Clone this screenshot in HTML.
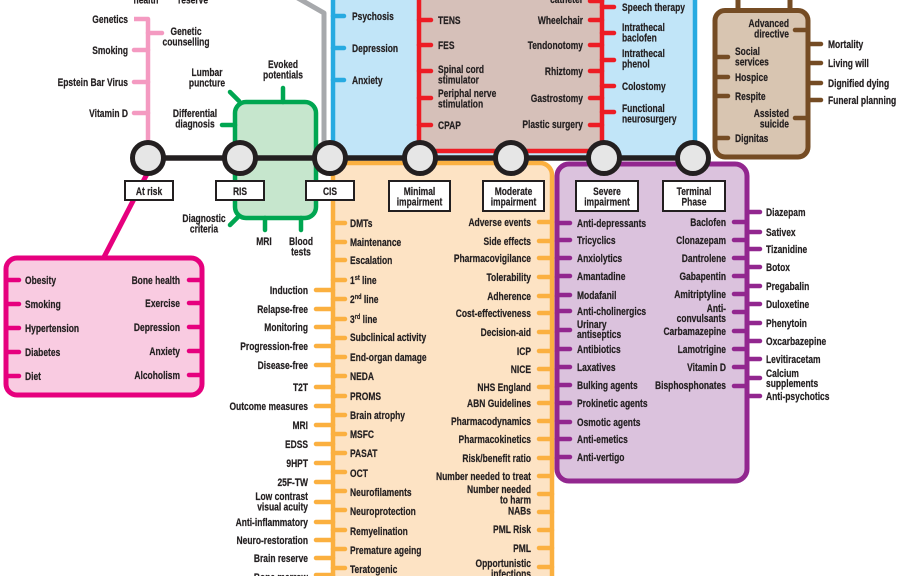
<!DOCTYPE html>
<html><head><meta charset="utf-8"><style>
html,body{margin:0;padding:0;background:#fff;}
body{width:902px;height:576px;overflow:hidden;}
svg{display:block;}
.t{font-family:"Liberation Sans",Arial,sans-serif;font-weight:bold;font-size:10.6px;fill:#231f20;stroke:#231f20;stroke-width:0.2px;}
.e{text-anchor:end;}
.m{text-anchor:middle;}
.tk{fill:none;stroke-linecap:round;}
</style></head><body>
<svg width="902" height="576" viewBox="0 0 902 576" xmlns="http://www.w3.org/2000/svg">
<defs><clipPath id="c"><rect x="0" y="0" width="902" height="576"/></clipPath></defs>
<g clip-path="url(#c)">
<!-- blue box -->
<rect x="333" y="-20" width="362" height="178" rx="10" fill="#c1e5f8" stroke="#27aae1" stroke-width="4.5"/>
<path class="tk" stroke="#27aae1" stroke-width="4.5" d="M333,16H344M333,48H344M333,80H344"/>
<!-- red box -->
<rect x="419" y="-20" width="183" height="171" rx="10" fill="#d6c0b9" stroke="#ed1c24" stroke-width="4.5"/>
<path class="tk" stroke="#ed1c24" stroke-width="4.5" d="M419,20H431M419,45H431M419,71H431M419,98H431M419,125H431M590,1H602M590,20H602M590,45H602M590,71H602M590,98H602M590,125H602M602,7H614M602,33H614M602,60H614M602,86H614M602,112H614"/>
<!-- gray line -->
<path d="M296,-3L324,13V150" fill="none" stroke="#a7a9ac" stroke-width="5" stroke-linejoin="round"/>
<!-- light pink line -->
<path d="M134,19H148V158" fill="none" stroke="#f49ac1" stroke-width="4.5" stroke-linejoin="round"/>
<path class="tk" stroke="#f49ac1" stroke-width="4.5" d="M134,50H148M134,82H148M134,113H148M148,33H162"/>
<!-- green box -->
<rect x="235" y="102" width="81" height="116" rx="11" fill="#c6e6cd" stroke="#00a651" stroke-width="4.5"/>
<path class="tk" stroke="#00a651" stroke-width="4.5" d="M230,92L239,101M283,88V102M222,125H235M230,225L238,217M265,218V230M301,218V230"/>
<!-- orange box -->
<rect x="333" y="163" width="219" height="430" rx="12" fill="#fde3c4" stroke="#fbb040" stroke-width="4.5"/>
<path class="tk" stroke="#fbb040" stroke-width="4.5" d="M316,290H333M316,309H333M316,327H333M316,346H333M316,365H333M316,387H333M316,406H333M316,425H333M316,444H333M316,463H333M316,482H333M316,502H333M316,522H333M316,540H333M316,558H333M316,575H333
M333,223H345M333,242H345M333,260H345M333,280H345M333,299H345M333,319H345M333,338H345M333,357H345M333,376H345M333,396H345M333,415H345M333,434H345M333,453H345M333,472H345M333,491H345M333,510H345M333,530H345M333,549H345M333,568H345
M539,222H552M539,241H552M539,258H552M539,277H552M539,296H552M539,313H552M539,332H552M539,351H552M539,369H552M539,387H552M539,403H552M539,421H552M539,439H552M539,458H552M539,476H552M539,494H552M539,512H552M539,530H552M539,548H552M539,567H552"/>
<!-- purple box -->
<rect x="557" y="164" width="190" height="317" rx="12" fill="#dbc2dd" stroke="#92278f" stroke-width="5"/>
<path class="tk" stroke="#92278f" stroke-width="4.5" d="M557,223H570M557,240H570M557,258H570M557,276H570M557,295H570M557,311H570M557,330H570M557,349H570M557,367H570M557,385H570M557,403H570M557,422H570M557,439H570M557,457H570
M734,222H747M734,240H747M734,258H747M734,276H747M734,294H747M734,312H747M734,331H747M734,349H747M734,367H747M734,386H747
M747,212H760M747,232H760M747,249H760M747,267H760M747,286H760M747,304H760M747,323H760M747,341H760M747,359H760M747,378H760M747,396H760"/>
<!-- brown box -->
<path d="M738,-5V11M790,-5V11" stroke="#754c24" stroke-width="5" fill="none"/>
<rect x="715" y="10.5" width="93" height="146.5" rx="10" fill="#d8c5b1" stroke="#754c24" stroke-width="5"/>
<path class="tk" stroke="#754c24" stroke-width="4.5" d="M715,57H728M715,77H728M715,96H728M715,138H728M795,30H808M795,118H808M808,44H821M808,63H821M808,83H821M808,100H821"/>
<!-- magenta -->
<path d="M148,172L103,259" stroke="#e6007e" stroke-width="5" fill="none"/>
<rect x="6" y="258" width="196" height="137" rx="11" fill="#f9cbe1" stroke="#e6007e" stroke-width="5"/>
<path class="tk" stroke="#e6007e" stroke-width="4.5" d="M6,280H19M6,304H19M6,328H19M6,352H19M6,376H19M189,280H202M189,303H202M189,327H202M189,351H202M189,375H202"/>
<!-- black line & stations -->
<path d="M148,158H693" stroke="#231f20" stroke-width="5.5"/>
<g fill="#e6e6e6" stroke="#231f20" stroke-width="5">
<circle cx="148" cy="158" r="15.5"/><circle cx="240" cy="158" r="15.5"/><circle cx="330" cy="158" r="15.5"/><circle cx="420" cy="158" r="15.5"/><circle cx="511" cy="158" r="15.5"/><circle cx="604" cy="158" r="15.5"/><circle cx="693" cy="158" r="15.5"/>
</g>
<g fill="#fff" stroke="#231f20" stroke-width="2">
<rect x="125" y="181" width="48" height="19"/><rect x="216" y="181" width="48" height="19"/><rect x="306" y="181" width="48" height="19"/>
<rect x="389" y="181" width="61" height="30"/><rect x="483" y="181" width="61" height="30"/><rect x="576" y="181" width="62" height="30"/><rect x="663" y="181" width="62" height="30"/>
</g>
<!-- station labels -->
<text class="t m" transform="translate(149 195) scale(.8 1)">At risk</text>
<text class="t m" transform="translate(240 195) scale(.8 1)">RIS</text>
<text class="t m" transform="translate(330 195) scale(.8 1)">CIS</text>
<text class="t m" transform="translate(419.5 195) scale(.8 1)">Minimal<tspan x="0" dy="10.5">impairment</tspan></text>
<text class="t m" transform="translate(513.5 195) scale(.8 1)">Moderate<tspan x="0" dy="10.5">impairment</tspan></text>
<text class="t m" transform="translate(607 195) scale(.8 1)">Severe<tspan x="0" dy="10.5">impairment</tspan></text>
<text class="t m" transform="translate(694 195) scale(.8 1)">Terminal<tspan x="0" dy="10.5">Phase</tspan></text>

<!-- top cut-off -->
<text class="t m" transform="translate(146 3.5) scale(.8 1)">health</text>
<text class="t m" transform="translate(193 3.5) scale(.8 1)">reserve</text>
<text class="t e" transform="translate(583 3) scale(.8 1)">catheter</text>

<!-- pink line labels -->
<text class="t e" transform="translate(128 23) scale(.8 1)">Genetics</text>
<text class="t e" transform="translate(128 54) scale(.8 1)">Smoking</text>
<text class="t e" transform="translate(128 86) scale(.8 1)">Epstein Bar Virus</text>
<text class="t e" transform="translate(128 117) scale(.8 1)">Vitamin D</text>
<text class="t m" transform="translate(186 35) scale(.8 1)">Genetic<tspan x="0" dy="10.5">counselling</tspan></text>

<!-- green labels -->
<text class="t m" transform="translate(207 76) scale(.8 1)">Lumbar<tspan x="0" dy="10.5">puncture</tspan></text>
<text class="t m" transform="translate(283 68) scale(.8 1)">Evoked<tspan x="0" dy="10.5">potentials</tspan></text>
<text class="t m" transform="translate(195 117) scale(.8 1)">Differential<tspan x="0" dy="10.5">diagnosis</tspan></text>
<text class="t m" transform="translate(204 222) scale(.8 1)">Diagnostic<tspan x="0" dy="10.5">criteria</tspan></text>
<text class="t m" transform="translate(264 245) scale(.8 1)">MRI</text>
<text class="t m" transform="translate(301 245) scale(.8 1)">Blood<tspan x="0" dy="10.5">tests</tspan></text>

<!-- blue labels -->
<text class="t" transform="translate(352 20) scale(.8 1)">Psychosis</text>
<text class="t" transform="translate(352 52) scale(.8 1)">Depression</text>
<text class="t" transform="translate(352 84) scale(.8 1)">Anxiety</text>

<!-- red inner left -->
<text class="t" transform="translate(438 24) scale(.8 1)">TENS</text>
<text class="t" transform="translate(438 49) scale(.8 1)">FES</text>
<text class="t" transform="translate(438 73) scale(.8 1)">Spinal cord<tspan x="0" dy="10.5">stimulator</tspan></text>
<text class="t" transform="translate(438 97) scale(.8 1)">Periphal nerve<tspan x="0" dy="10.5">stimulation</tspan></text>
<text class="t" transform="translate(438 129) scale(.8 1)">CPAP</text>
<!-- red inner right -->
<text class="t e" transform="translate(583 24) scale(.8 1)">Wheelchair</text>
<text class="t e" transform="translate(583 49) scale(.8 1)">Tendonotomy</text>
<text class="t e" transform="translate(583 75) scale(.8 1)">Rhiztomy</text>
<text class="t e" transform="translate(583 102) scale(.8 1)">Gastrostomy</text>
<text class="t e" transform="translate(583 128) scale(.8 1)">Plastic surgery</text>
<!-- red outer -->
<text class="t" transform="translate(622 11) scale(.8 1)">Speech therapy</text>
<text class="t" transform="translate(622 31) scale(.8 1)">Intrathecal<tspan x="0" dy="10.5">baclofen</tspan></text>
<text class="t" transform="translate(622 57) scale(.8 1)">Intrathecal<tspan x="0" dy="10.5">phenol</tspan></text>
<text class="t" transform="translate(622 90) scale(.8 1)">Colostomy</text>
<text class="t" transform="translate(622 112) scale(.8 1)">Functional<tspan x="0" dy="10.5">neurosurgery</tspan></text>

<!-- brown -->
<text class="t e" transform="translate(789 27) scale(.8 1)">Advanced<tspan x="0" dy="10.5">directive</tspan></text>
<text class="t" transform="translate(735 55) scale(.8 1)">Social<tspan x="0" dy="10.5">services</tspan></text>
<text class="t" transform="translate(735 81) scale(.8 1)">Hospice</text>
<text class="t" transform="translate(735 100) scale(.8 1)">Respite</text>
<text class="t e" transform="translate(789 117) scale(.8 1)">Assisted<tspan x="0" dy="10.5">suicide</tspan></text>
<text class="t" transform="translate(735 142) scale(.8 1)">Dignitas</text>
<text class="t" transform="translate(828 48) scale(.8 1)">Mortality</text>
<text class="t" transform="translate(828 67) scale(.8 1)">Living will</text>
<text class="t" transform="translate(828 87) scale(.8 1)">Dignified dying</text>
<text class="t" transform="translate(828 104) scale(.8 1)">Funeral  planning</text>

<!-- pink box -->
<text class="t" transform="translate(25 284) scale(.8 1)">Obesity</text>
<text class="t" transform="translate(25 308) scale(.8 1)">Smoking</text>
<text class="t" transform="translate(25 332) scale(.8 1)">Hypertension</text>
<text class="t" transform="translate(25 356) scale(.8 1)">Diabetes</text>
<text class="t" transform="translate(25 380) scale(.8 1)">Diet</text>
<text class="t e" transform="translate(180 284) scale(.8 1)">Bone health</text>
<text class="t e" transform="translate(180 307) scale(.8 1)">Exercise</text>
<text class="t e" transform="translate(180 331) scale(.8 1)">Depression</text>
<text class="t e" transform="translate(180 355) scale(.8 1)">Anxiety</text>
<text class="t e" transform="translate(180 379) scale(.8 1)">Alcoholism</text>

<!-- orange outer left -->
<text class="t e" transform="translate(308 294) scale(.8 1)">Induction</text>
<text class="t e" transform="translate(308 313) scale(.8 1)">Relapse-free</text>
<text class="t e" transform="translate(308 331) scale(.8 1)">Monitoring</text>
<text class="t e" transform="translate(308 350) scale(.8 1)">Progression-free</text>
<text class="t e" transform="translate(308 369) scale(.8 1)">Disease-free</text>
<text class="t e" transform="translate(308 391) scale(.8 1)">T2T</text>
<text class="t e" transform="translate(308 410) scale(.8 1)">Outcome measures</text>
<text class="t e" transform="translate(308 429) scale(.8 1)">MRI</text>
<text class="t e" transform="translate(308 448) scale(.8 1)">EDSS</text>
<text class="t e" transform="translate(308 467) scale(.8 1)">9HPT</text>
<text class="t e" transform="translate(308 486) scale(.8 1)">25F-TW</text>
<text class="t e" transform="translate(308 500) scale(.8 1)">Low contrast<tspan x="0" dy="10.5">visual acuity</tspan></text>
<text class="t e" transform="translate(308 526) scale(.8 1)">Anti-inflammatory</text>
<text class="t e" transform="translate(308 544) scale(.8 1)">Neuro-restoration</text>
<text class="t e" transform="translate(308 562) scale(.8 1)">Brain reserve</text>
<text class="t e" transform="translate(308 581) scale(.8 1)">Bone marrow</text>

<!-- orange inner left -->
<text class="t" transform="translate(350 227) scale(.8 1)">DMTs</text>
<text class="t" transform="translate(350 246) scale(.8 1)">Maintenance</text>
<text class="t" transform="translate(350 264) scale(.8 1)">Escalation</text>
<text class="t" transform="translate(350 284) scale(.8 1)">1<tspan font-size="7" dy="-4">st</tspan><tspan dy="4"> line</tspan></text>
<text class="t" transform="translate(350 303) scale(.8 1)">2<tspan font-size="7" dy="-4">nd</tspan><tspan dy="4"> line</tspan></text>
<text class="t" transform="translate(350 323) scale(.8 1)">3<tspan font-size="7" dy="-4">rd</tspan><tspan dy="4"> line</tspan></text>
<text class="t" transform="translate(350 341) scale(.8 1)">Subclinical activity</text>
<text class="t" transform="translate(350 361) scale(.8 1)">End-organ damage</text>
<text class="t" transform="translate(350 380) scale(.8 1)">NEDA</text>
<text class="t" transform="translate(350 400) scale(.8 1)">PROMS</text>
<text class="t" transform="translate(350 419) scale(.8 1)">Brain atrophy</text>
<text class="t" transform="translate(350 438) scale(.8 1)">MSFC</text>
<text class="t" transform="translate(350 457) scale(.8 1)">PASAT</text>
<text class="t" transform="translate(350 477) scale(.8 1)">OCT</text>
<text class="t" transform="translate(350 496) scale(.8 1)">Neurofilaments</text>
<text class="t" transform="translate(350 515) scale(.8 1)">Neuroprotection</text>
<text class="t" transform="translate(350 535) scale(.8 1)">Remyelination</text>
<text class="t" transform="translate(350 554) scale(.8 1)">Premature ageing</text>
<text class="t" transform="translate(350 573) scale(.8 1)">Teratogenic</text>

<!-- orange inner right -->
<text class="t e" transform="translate(531 226) scale(.8 1)">Adverse events</text>
<text class="t e" transform="translate(531 245) scale(.8 1)">Side effects</text>
<text class="t e" transform="translate(531 262) scale(.8 1)">Pharmacovigilance</text>
<text class="t e" transform="translate(531 281) scale(.8 1)">Tolerability</text>
<text class="t e" transform="translate(531 300) scale(.8 1)">Adherence</text>
<text class="t e" transform="translate(531 317) scale(.8 1)">Cost-effectiveness</text>
<text class="t e" transform="translate(531 336) scale(.8 1)">Decision-aid</text>
<text class="t e" transform="translate(531 355) scale(.8 1)">ICP</text>
<text class="t e" transform="translate(531 373) scale(.8 1)">NICE</text>
<text class="t e" transform="translate(531 391) scale(.8 1)">NHS England</text>
<text class="t e" transform="translate(531 407) scale(.8 1)">ABN Guidelines</text>
<text class="t e" transform="translate(531 425) scale(.8 1)">Pharmacodynamics</text>
<text class="t e" transform="translate(531 443) scale(.8 1)">Pharmacokinetics</text>
<text class="t e" transform="translate(531 462) scale(.8 1)">Risk/benefit ratio</text>
<text class="t e" transform="translate(531 480) scale(.8 1)">Number needed to treat</text>
<text class="t e" transform="translate(531 493) scale(.8 1)">Number needed<tspan x="0" dy="10.5">to harm</tspan></text>
<text class="t e" transform="translate(531 514.5) scale(.8 1)">NABs</text>
<text class="t e" transform="translate(531 533) scale(.8 1)">PML Risk</text>
<text class="t e" transform="translate(531 552) scale(.8 1)">PML</text>
<text class="t e" transform="translate(531 567) scale(.8 1)">Opportunistic<tspan x="0" dy="10.5">infections</tspan></text>

<!-- purple inner left -->
<text class="t" transform="translate(577 227) scale(.8 1)">Anti-depressants</text>
<text class="t" transform="translate(577 244) scale(.8 1)">Tricyclics</text>
<text class="t" transform="translate(577 262) scale(.8 1)">Anxiolytics</text>
<text class="t" transform="translate(577 280) scale(.8 1)">Amantadine</text>
<text class="t" transform="translate(577 299) scale(.8 1)">Modafanil</text>
<text class="t" transform="translate(577 315) scale(.8 1)">Anti-cholinergics</text>
<text class="t" transform="translate(577 328) scale(.8 1)">Urinary<tspan x="0" dy="10">antiseptics</tspan></text>
<text class="t" transform="translate(577 353) scale(.8 1)">Antibiotics</text>
<text class="t" transform="translate(577 371) scale(.8 1)">Laxatives</text>
<text class="t" transform="translate(577 389) scale(.8 1)">Bulking agents</text>
<text class="t" transform="translate(577 407) scale(.8 1)">Prokinetic agents</text>
<text class="t" transform="translate(577 426) scale(.8 1)">Osmotic agents</text>
<text class="t" transform="translate(577 443) scale(.8 1)">Anti-emetics</text>
<text class="t" transform="translate(577 461) scale(.8 1)">Anti-vertigo</text>

<!-- purple inner right -->
<text class="t e" transform="translate(726 226) scale(.8 1)">Baclofen</text>
<text class="t e" transform="translate(726 244) scale(.8 1)">Clonazepam</text>
<text class="t e" transform="translate(726 262) scale(.8 1)">Dantrolene</text>
<text class="t e" transform="translate(726 280) scale(.8 1)">Gabapentin</text>
<text class="t e" transform="translate(726 298) scale(.8 1)">Amitriptyline</text>
<text class="t e" transform="translate(726 312) scale(.8 1)">Anti-<tspan x="0" dy="10">convulsants</tspan></text>
<text class="t e" transform="translate(726 335) scale(.8 1)">Carbamazepine</text>
<text class="t e" transform="translate(726 353) scale(.8 1)">Lamotrigine</text>
<text class="t e" transform="translate(726 371) scale(.8 1)">Vitamin D</text>
<text class="t e" transform="translate(726 389) scale(.8 1)">Bisphosphonates</text>

<!-- purple outer -->
<text class="t" transform="translate(766 216) scale(.8 1)">Diazepam</text>
<text class="t" transform="translate(766 236) scale(.8 1)">Sativex</text>
<text class="t" transform="translate(766 253) scale(.8 1)">Tizanidine</text>
<text class="t" transform="translate(766 271) scale(.8 1)">Botox</text>
<text class="t" transform="translate(766 290) scale(.8 1)">Pregabalin</text>
<text class="t" transform="translate(766 308) scale(.8 1)">Duloxetine</text>
<text class="t" transform="translate(766 327) scale(.8 1)">Phenytoin</text>
<text class="t" transform="translate(766 345) scale(.8 1)">Oxcarbazepine</text>
<text class="t" transform="translate(766 363) scale(.8 1)">Levitiracetam</text>
<text class="t" transform="translate(766 377) scale(.8 1)">Calcium<tspan x="0" dy="10">supplements</tspan></text>
<text class="t" transform="translate(766 400) scale(.8 1)">Anti-psychotics</text>
</g>
</svg>
</body></html>
